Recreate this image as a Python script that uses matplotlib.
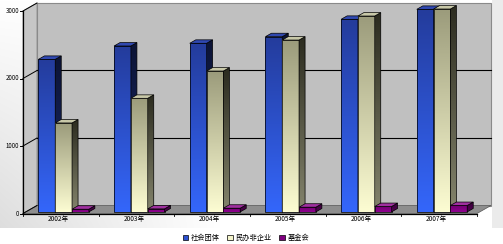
import numpy as np
import matplotlib
matplotlib.use('Agg')
import matplotlib.pyplot as plt
from matplotlib.patches import Polygon, Patch
from matplotlib.colors import LinearSegmentedColormap, to_rgb

# ---- data ----
years = ['2002年', '2003年', '2004年', '2005年', '2006年', '2007年']
series_names = ['社会团体', '民办非企业', '基金会']
shehui = [2260, 2458, 2498, 2596, 2853, 3001]
minban = [1318, 1683, 2087, 2546, 2902, 3006]
jijin = [40, 45, 55, 70, 80, 95]
yticks = [0, 1000, 2000, 3000]
ytick_labels = ['0', '1000', '2000', '3000']

CJK = ['Noto Sans CJK SC', 'DejaVu Sans']

W, H = 503, 244
fig = plt.figure(figsize=(W / 100, H / 100), dpi=100)

# background
bg = fig.add_axes([0, 0, 1, 1])
bg.set_xlim(0, W); bg.set_ylim(H, 0); bg.axis('off')
xx, yy = np.meshgrid(np.arange(W), np.arange(H))
wgt = np.clip(1 - xx / 220.0, 0, 1) * np.clip(yy / 227.0, 0, 1) * 0.13
wgt = np.where(xx > 491, 0.075, wgt)
wgt = np.where(yy > 227, 0.0, wgt)
img = 1 - wgt
bg.imshow(np.dstack([img, img, img]), extent=(0, W, H, 0), aspect='auto', interpolation='bilinear')

ax = fig.add_axes([0, 0, 1, 1])
ax.patch.set_alpha(0)
ax.axis('off')

PXC = 75.67      # px per category
PXV = 0.0675     # px per value unit
X0, Y0 = 23.0, 213.5
XL = (-X0 / PXC, (W - X0) / PXC)
YL = (-(H - Y0) / PXV, Y0 / PXV)
DX = 14.0 / PXC
DY = 8.0 / PXV
VMAX = 3000
NC = len(years)


def P(x, v, d):
    return (x + d * DX, v + d * DY)


z = [1]


def nz():
    z[0] += 1
    return z[0]


def poly(pts, fc, ec='none', lw=0.0):
    p = Polygon(pts, closed=True, facecolor=fc, edgecolor=ec, linewidth=lw, zorder=nz())
    ax.add_patch(p)
    return p


def grad(patch, ctop, cbot, ext):
    cmap = LinearSegmentedColormap.from_list('g', [cbot, ctop])
    g = np.linspace(0, 1, 64).reshape(-1, 1)
    im = ax.imshow(g, cmap=cmap, extent=ext, origin='lower', aspect='auto',
                   interpolation='bilinear', zorder=patch.get_zorder() - 0.5)
    im.set_clip_path(patch)


# walls
poly([P(0, 0, 1), P(NC, 0, 1), P(NC, VMAX, 1), P(0, VMAX, 1)], '#c0c0c0', '#8a8a8a', 0.8)
poly([P(0, 0, 0), P(0, 0, 1), P(0, VMAX, 1), P(0, VMAX, 0)], '#c6c6c6', '#8a8a8a', 0.6)
poly([P(0, 0, 0), P(NC, 0, 0), P(NC, 0, 1), P(0, 0, 1)], '#8e8e8e', '#555555', 0.5)

# gridlines
for t in yticks[1:-1]:
    a = P(0, t, 1); b = P(NC, t, 1)
    ax.plot([a[0], b[0]], [a[1], b[1]], color='black', lw=0.8, zorder=nz())
for t in yticks:
    a = P(0, t, 0); b = P(0, t, 1)
    ax.plot([a[0], b[0]], [a[1], b[1]], color='black', lw=0.7, zorder=nz())

# front axis line and ticks
ax.plot([0, 0], [0, VMAX], color='black', lw=0.9, zorder=nz())
ax.plot([0, NC], [0, 0], color='black', lw=0.9, zorder=nz())
for t, lab in zip(yticks, ytick_labels):
    ax.plot([-3.0 / PXC, 0], [t, t], color='black', lw=0.7, zorder=nz())
    ax.text(-3.5 / PXC, t, lab, ha='right', va='center', fontsize=4.4,
            family=CJK, color='black', zorder=nz())
for i in range(NC + 1):
    ax.plot([i, i], [0, -2.5 / PXV], color='black', lw=0.6, zorder=nz())
for i, yl in enumerate(years):
    ax.text(i + 0.5 - 0.035, -5.5 / PXV, yl, ha='center', va='center', fontsize=4.7,
            family=CJK, color='black', zorder=nz())

# bars
styles = [
    dict(ftop='#243c9c', fbot='#3466fa', stop='#0c1436', sbot='#1c2c70', top='#3048b0'),
    dict(ftop='#9c9c7c', fbot='#fcfcd2', stop='#2c2c20', sbot='#84846c', top='#c8c8a8'),
    dict(ftop='#700070', fbot='#900090', stop='#3c003c', sbot='#500050', top='#a030a0'),
]
series = [shehui, minban, jijin]
bw = 1.0 / 4.5
start = 0.75 / 4.5
d0, d1 = 0.2, 0.63
for i in range(NC):
    for s, vals in enumerate(series):
        v = vals[i]
        st = styles[s]
        x = i + start + s * bw
        fx = x + d0 * DX
        bars = ax.bar([fx], [v], width=bw, bottom=d0 * DY, align='edge',
                      facecolor='none', edgecolor='black', linewidth=0.5, zorder=nz())
        rect = bars.patches[0]
        grad(rect, st['ftop'], st['fbot'], (fx, fx + bw, d0 * DY, d0 * DY + v))
        side = [P(x + bw, 0, d0), P(x + bw, 0, d1), P(x + bw, v, d1), P(x + bw, v, d0)]
        sp = poly(side, 'none', 'black', 0.5)
        xs = [p[0] for p in side]
        grad(sp, st['stop'], st['sbot'], (min(xs), max(xs), d0 * DY, v + d1 * DY))
        poly([P(x, v, d0), P(x + bw, v, d0), P(x + bw, v, d1), P(x, v, d1)], st['top'], 'black', 0.5)

ax.set_xlim(*XL)
ax.set_ylim(*YL)

# legend
handles = [Patch(facecolor=c, edgecolor='black', linewidth=0.5)
           for c in ['#2c50d0', '#f4f4cc', '#800080']]
leg = fig.legend(handles, series_names, loc='center', bbox_to_anchor=(246 / W, 1 - 238 / H),
                 ncol=3, frameon=False, prop={'family': CJK, 'size': 5.2},
                 handlelength=0.75, handleheight=0.75, handletextpad=0.4, columnspacing=1.0,
                 borderaxespad=0, borderpad=0)

fig.savefig('out.png', dpi=100)
